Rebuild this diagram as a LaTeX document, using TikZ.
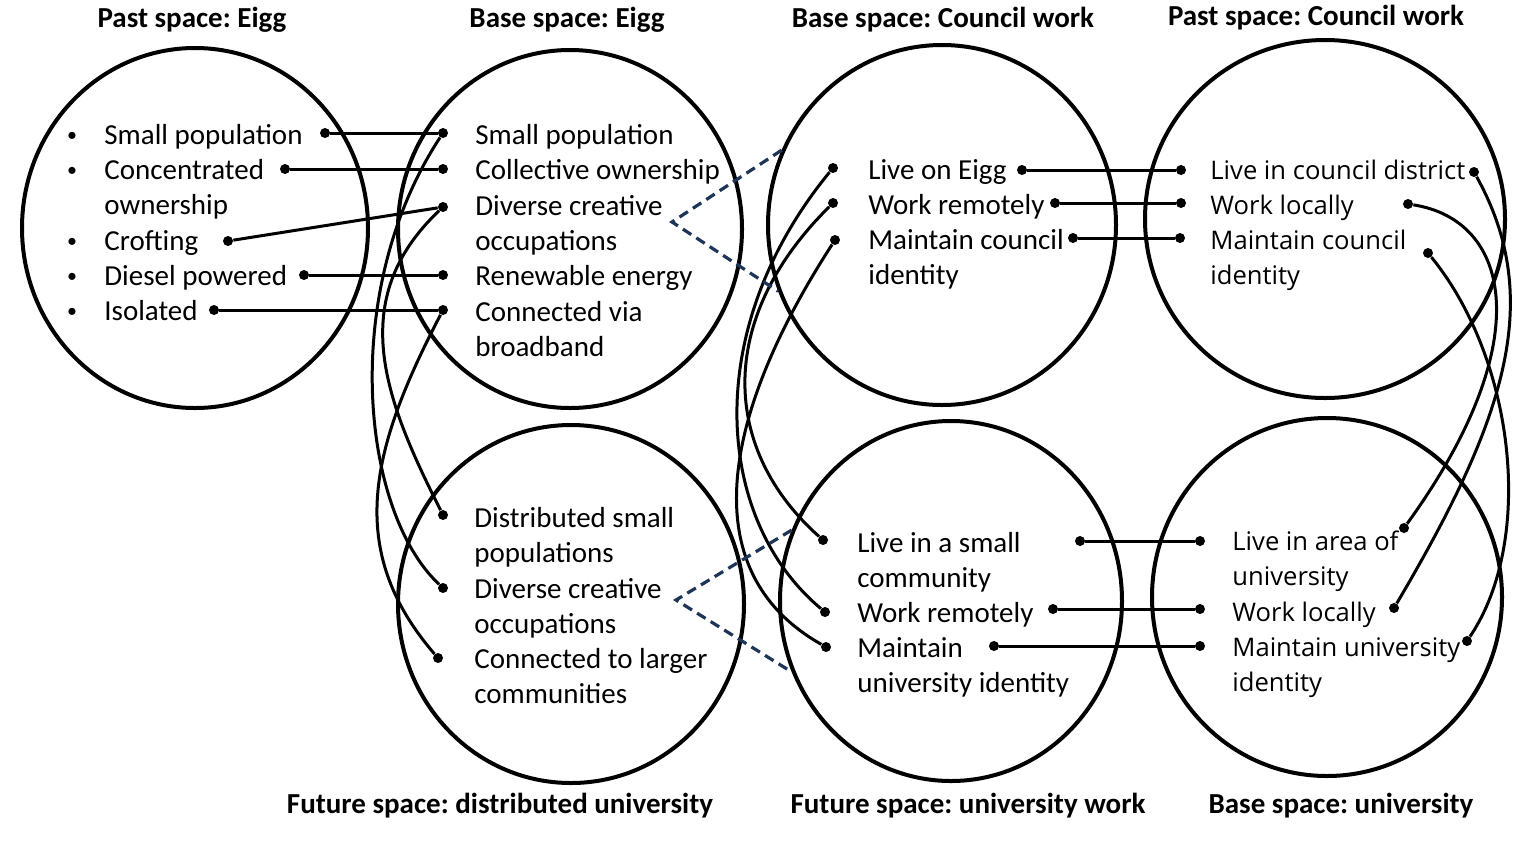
\documentclass[tikz,border=0pt]{standalone}
\usepackage{fontspec}
\setmainfont{Carlito}
\newfontfamily\widefont{Open Sans}
\usetikzlibrary{shapes.geometric}
\definecolor{navy}{HTML}{1F3557}
\frenchspacing

\begin{document}
\begin{tikzpicture}[x=0.5pt,y=-0.5pt,
    ring/.style={draw, ellipse, line width=2pt, inner sep=0pt},
    knob/.style={circle, fill, inner sep=0pt, minimum size=5pt},
    link/.style={line width=1.5pt},
    proj/.style={draw=navy, line width=1.6pt, dash pattern=on 5pt off 3pt},
    item/.style={anchor=base west, align=left, inner sep=0pt,
      font=\fontsize{14.5}{17.5}\selectfont},
    wide/.style={item, font=\widefont\fontsize{12.8}{17.5}\selectfont},
    heading/.style={font=\bfseries\fontsize{14.5}{17.5}\selectfont}]
  \useasboundingbox (0,0) rectangle (1525,842);

  % spaces
  \node[ring, minimum width=173pt, minimum height=180pt] (pe) at (195,228) {};
  \node[ring, minimum width=172pt, minimum height=179pt] (be) at (570,229) {};
  \node[ring, minimum width=174pt, minimum height=180pt] (bc) at (942,225) {};
  \node[ring, minimum width=180pt, minimum height=179pt] (pc) at (1325,219) {};
  \node[ring, minimum width=173pt, minimum height=179pt] (fd) at (571,604) {};
  \node[ring, minimum width=171pt, minimum height=180pt] (fu) at (951,601) {};
  \node[ring, minimum width=175pt, minimum height=179pt] (bu) at (1327,597) {};

  \node[heading] (pe-t) at (192,20) {Past space: Eigg};
  \node[heading] (be-t) at (567,20) {Base space: Eigg};
  \node[heading] (bc-t) at (943,20) {Base space: Council work};
  \node[heading] (pc-t) at (1316,18) {Past space: Council work};
  \node[heading] (fd-t) at (500,806) {Future space: distributed university};
  \node[heading] (fu-t) at (968,806) {Future space: university work};
  \node[heading] (bu-t) at (1341,806) {Base space: university};

  % past space: Eigg (two-line items sit on their last line)
  \foreach \i/\y in {1/141,2/176,3/247,4/282,5/317}
    \node[item, anchor=base, font=\fontsize{10}{12}\selectfont] (bul\i) at (72,\y) {\textbullet};
  \node[item] (pe1) at (104,144) {Small population};
  \node[item] (pe2) at (104,214) {Concentrated\\ownership};
  \node[item] (pe3) at (104,250) {Crofting};
  \node[item] (pe4) at (104,285) {Diesel powered};
  \node[item] (pe5) at (104,320) {Isolated};

  % base space: Eigg
  \node[item] (be1) at (475,144) {Small population};
  \node[item] (be2) at (475,179) {Collective ownership};
  \node[item] (be3) at (475,250) {Diverse creative\\occupations};
  \node[item] (be4) at (475,285) {Renewable energy};
  \node[item] (be5) at (475,356) {Connected via\\broadband};

  % base space: council work
  \node[item] (bc1) at (868,179) {Live on Eigg};
  \node[item] (bc2) at (868,214) {Work remotely};
  \node[item] (bc3) at (868,284) {Maintain council\\identity};

  % past space: council work
  \node[wide] (pc1) at (1210,179) {Live in council district};
  \node[wide] (pc2) at (1210,214) {Work locally};
  \node[wide] (pc3) at (1210,284) {Maintain council\\identity};

  % future space: distributed university
  \node[item] (fd1) at (474,562) {Distributed small\\populations};
  \node[item] (fd2) at (474,633) {Diverse creative\\occupations};
  \node[item] (fd3) at (474,703) {Connected to larger\\communities};

  % future space: university work
  \node[item] (fu1) at (857,587) {Live in a small\\community};
  \node[item] (fu2) at (857,622) {Work remotely};
  \node[item] (fu3) at (857,692) {Maintain\\university identity};

  % base space: university
  \node[wide] (bu1) at (1232,585) {Live in area of\\university};
  \node[wide] (bu2) at (1232,621) {Work locally};
  \node[wide] (bu3) at (1232,691) {Maintain university\\identity};

  % dots
  \foreach \n/\x/\y in {pe1-r/325/133, pe2-r/285/169, pe3-r/228/241, pe4-r/304/275, pe5-r/214/310,
      be1-l/443/133, be2-l/443/169, be3-l/443/207, be4-l/443/275, be5-l/443/310,
      bc1-l/833/168, bc2-l/833/203, bc3-l/835/240,
      bc1-r/1022/170, bc2-r/1055/203, bc3-r/1073/238,
      pc1-l/1181/170, pc2-l/1181/203, pc3-l/1180/238,
      pc1-r/1474/172, pc2-r/1408/204, pc3-r/1428/253,
      fd1-l/443/515, fd2-l/443/588, fd3-l/438/658,
      fu1-l/823/540, fu2-l/825/612, fu3-l/826/647,
      fu1-r/1080/541, fu2-r/1053/609, fu3-r/994/646,
      bu1-l/1200/541, bu2-l/1200/609, bu3-l/1200/646,
      bu1-r/1404/528, bu2-r/1394/608, bu3-r/1467/641}
    \node[knob] (\n) at (\x,\y) {};

  % straight links
  \foreach \i in {1,...,5}
    \draw[link] (pe\i-r) -- (be\i-l);
  \foreach \i in {1,2,3} {
    \draw[link] (bc\i-r) -- (pc\i-l);
    \draw[link] (fu\i-r) -- (bu\i-l);
  }

  % curved links
  \draw[link] (be1-l) .. controls (340,290) and (360,510) .. (fd2-l);
  \draw[link] (be3-l) .. controls (345,300) and (385,400) .. (fd1-l);
  \draw[link] (be5-l) .. controls (370,450) and (345,550) .. (fd3-l);
  \draw[link] (bc1-l) .. controls (700,330) and (715,520) .. (fu2-l);
  \draw[link] (bc2-l) .. controls (715,320) and (722,450) .. (fu1-l);
  \draw[link] (bc3-l) .. controls (725,410) and (690,570) .. (fu3-l);
  \draw[link] (pc1-r) .. controls (1545,300) and (1505,420) .. (bu2-r);
  \draw[link] (pc2-r) .. controls (1510,220) and (1540,340) .. (bu1-r);
  \draw[link] (pc3-r) .. controls (1515,360) and (1535,540) .. (bu3-r);

  % projections
  \coordinate (be-v) at (672,222);
  \coordinate (fd-v) at (676,600);
  \draw[proj] (bc.155) -- (be-v) -- (bc.202);
  \draw[proj] (fu.156) -- (fd-v) -- (fu.204);
\end{tikzpicture}
\end{document}
